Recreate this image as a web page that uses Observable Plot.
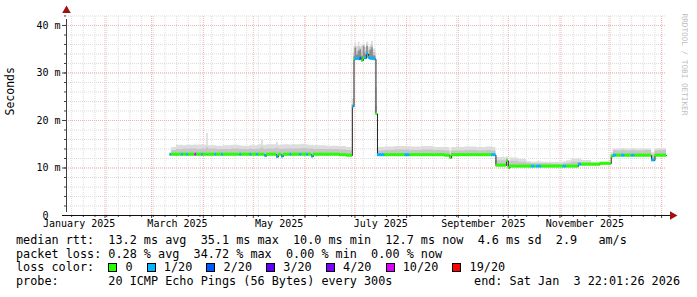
<!DOCTYPE html>
<html><head><meta charset="utf-8">
<script src="https://cdn.jsdelivr.net/npm/d3@7"></script>
<script src="https://cdn.jsdelivr.net/npm/@observablehq/plot@0.6"></script>
<style>
body{margin:0;background:#fff;}
#wrap{position:relative;width:697px;height:297px;overflow:hidden;background:#fff;}
#legend{position:absolute;left:16px;top:234px;font-family:"DejaVu Sans Mono",monospace;font-size:11.8px;line-height:13.67px;white-space:pre;color:#000;}
#legend .box{display:inline-block;width:7px;height:7px;border:1px solid #000;vertical-align:-1px;margin-right:1px;}
#endtxt{position:absolute;right:17px;top:275px;font-family:"DejaVu Sans Mono",monospace;font-size:11.8px;line-height:13.67px;white-space:pre;}
</style></head>
<body><div id="wrap"><div id="chart"></div><div id="legend"></div><div id="endtxt"></div></div>
<script>
// ---- data ----
const startTime = "2025-01-08T22:01:26Z";
const endTime = "2026-01-03T22:01:26Z";
const dates = [
"2025-03-12","2025-03-13","2025-03-16","2025-03-19","2025-03-20","2025-03-22","2025-03-23","2025-03-27","2025-03-28","2025-03-31",
"2025-04-01","2025-04-03","2025-04-04","2025-04-08","2025-04-09","2025-04-12","2025-04-13","2025-04-18","2025-04-23","2025-04-24",
"2025-04-29","2025-04-30","2025-05-03","2025-05-04","2025-05-06","2025-05-07","2025-05-08","2025-05-09","2025-05-15","2025-05-16",
"2025-05-18","2025-05-19","2025-05-23","2025-05-24","2025-05-29","2025-05-30","2025-06-02","2025-06-03","2025-06-05","2025-06-06",
"2025-06-14","2025-06-22","2025-06-26","2025-06-29T10:00Z","2025-06-30T10:00Z",
"2025-07-01","2025-07-02","2025-07-03","2025-07-04","2025-07-05","2025-07-06","2025-07-07","2025-07-08","2025-07-09","2025-07-10",
"2025-07-11","2025-07-12","2025-07-13T14:00Z","2025-07-14T12:00Z","2025-07-19","2025-07-25","2025-07-31","2025-08-03","2025-08-10","2025-08-17",
"2025-08-24","2025-08-27","2025-08-28","2025-09-05","2025-09-12","2025-09-18","2025-09-21","2025-09-23T14:00Z","2025-09-30","2025-10-01",
"2025-10-02","2025-10-07","2025-10-12","2025-10-15","2025-10-17","2025-10-18","2025-10-21","2025-10-27","2025-11-03","2025-11-05",
"2025-11-08","2025-11-12","2025-11-14","2025-11-20","2025-11-25","2025-12-01T18:00Z","2025-12-03","2025-12-05","2025-12-08","2025-12-10",
"2025-12-14","2025-12-16","2025-12-22","2025-12-26","2025-12-28","2025-12-30"
];
// median rtt in ms
const median = [
12.8,12.8,12.8,12.8,12.8,12.8,12.8,12.8,12.8,12.8,
12.8,12.8,12.8,12.8,12.8,12.8,12.8,12.8,12.8,12.8,
12.8,12.8,12.8,12.8,12.8,12.8,12.5,12.8,12.3,12.8,
12.4,12.8,12.8,12.8,12.8,12.8,12.8,12.8,12.4,12.8,
12.8,12.7,12.6,22.9,32.8,
32.9,33.0,32.9,33.0,32.6,33.1,33.1,34.0,33.2,33.0,
33.0,32.9,21.4,12.7,12.7,12.7,12.7,12.7,12.7,12.7,
12.6,12.1,12.7,12.7,12.7,12.7,12.7,10.5,11.5,10.0,
10.3,10.3,10.3,10.3,10.3,10.3,10.3,10.3,10.3,10.3,
10.3,10.7,10.7,10.7,10.9,12.4,12.6,12.6,12.6,12.6,
12.6,12.6,12.6,11.6,12.6,12.6
];
// lost pings out of 20
const loss = [
1,0,0,1,0,1,0,10,0,1,
0,0,0,1,0,1,0,0,1,0,
1,0,1,0,0,0,1,0,1,0,
1,0,1,0,1,0,1,0,1,0,
0,0,0,1,0,
1,1,1,2,0,0,1,1,1,1,
1,1,0,1,0,0,1,0,0,0,
0,0,0,0,0,0,1,0,0,0,
0,0,0,1,0,1,0,0,1,0,
0,1,0,0,0,0,1,0,1,0,
1,0,0,1,0,0
];
// upper edge of the darkest smoke core, ms
const smokeCore = [
12.8,12.8,12.8,12.8,12.8,12.8,12.8,12.8,12.8,12.8,
12.8,12.8,12.8,12.8,12.8,12.8,12.8,12.8,12.8,12.8,
12.8,12.8,12.8,12.8,12.8,12.8,12.5,12.8,12.3,12.8,
12.4,12.8,12.8,12.8,12.8,12.8,12.8,12.8,12.4,12.8,
12.8,12.7,12.6,22.9,33.5,
35.2,33.8,34.6,34.9,33.5,35.5,34.0,35.6,33.9,34.8,
35.3,33.6,21.4,12.7,12.7,12.7,12.7,12.7,12.7,12.7,
12.6,12.1,12.7,12.7,12.7,12.7,12.7,10.5,11.5,10.0,
10.3,10.3,10.3,10.3,10.3,10.3,10.3,10.3,10.3,10.3,
10.3,10.7,10.7,10.7,10.9,12.4,12.6,12.6,12.6,12.6,
12.6,12.6,12.6,11.6,12.6,12.6
];
// upper edge of the dense (mid-grey) smoke, ms
const smokeDense = [
12.8,13.7,13.9,13.9,14.0,13.9,14.0,14.0,13.9,14.0,
14.0,14.3,14.0,14.0,13.9,13.9,13.9,14.0,13.9,13.9,
14.0,13.9,13.9,14.0,14.3,14.0,13.9,14.0,14.2,14.0,
13.9,14.0,14.0,14.0,14.0,14.1,14.0,14.0,14.0,13.9,
13.9,13.8,13.7,23.2,34.3,
35.6,34.6,35.5,35.2,34.4,35.8,34.5,36.0,34.8,35.4,
35.9,34.3,23.0,13.6,13.7,13.8,13.8,13.7,13.8,13.7,
13.6,12.9,13.6,13.7,13.6,13.7,13.6,11.5,11.9,10.8,
11.4,11.2,11.0,10.9,10.9,10.9,10.9,10.8,10.9,11.0,
11.2,11.2,11.1,10.9,11.0,12.8,13.7,13.6,13.7,13.6,
13.7,13.6,13.7,12.8,13.6,13.7
];
// upper edge of the light smoke, ms
const smokeLight = [
12.8,14.3,14.8,14.8,14.7,14.8,14.8,14.9,14.8,14.9,
14.8,17.3,14.7,14.7,14.6,14.6,14.7,14.8,14.7,14.6,
14.8,14.7,14.7,14.9,15.9,14.8,14.8,14.9,15.4,14.8,
14.8,14.9,14.8,14.9,14.9,15.0,14.9,14.8,14.8,14.7,
14.6,14.5,14.3,24.5,35.7,
36.3,35.6,36.5,35.5,35.8,36.1,35.3,36.5,35.4,35.8,
36.7,35.0,27.0,14.3,14.4,14.5,14.5,14.4,14.5,14.3,
14.3,13.6,14.3,14.4,14.3,14.4,14.3,12.2,12.3,11.5,
12.1,11.8,11.3,11.2,11.2,11.3,11.2,11.2,11.3,11.5,
11.9,11.9,11.6,11.2,11.1,13.2,14.0,14.0,14.1,14.0,
14.1,14.0,14.0,13.2,14.0,14.1
];
const lossLevels = [0, 1, 2, 3, 4, 10, 19];
const lossLabels = ["0", "1/20", "2/20", "3/20", "4/20", "10/20", "19/20"];
const lossColors = ["#26ff00", "#00b8ff", "#0059ff", "#5e00ff", "#7e00ff", "#dd00ff", "#ff0000"];
const monthLabelDates = ["2025-01-16T12:00Z","2025-03-16T12:00Z","2025-05-16T12:00Z","2025-07-16T12:00Z","2025-09-16T00:00Z","2025-11-16T00:00Z"];
const yTickValues = [0, 10, 20, 30, 40];
const yTickLabels = ["0", "10 m", "20 m", "30 m", "40 m"];
const statsLine1 = "median rtt:  13.2 ms avg  35.1 ms max  10.0 ms min  12.7 ms now  4.6 ms sd  2.9   am/s";
const statsLine2 = "packet loss: 0.28 % avg  34.72 % max  0.00 % min  0.00 % now";
const probeLine = "probe:       20 ICMP Echo Pings (56 Bytes) every 300s";
const endLine = "end: Sat Jan  3 22:01:26 2026";

// ---- build ----
const t0 = new Date(startTime), t1 = new Date(endTime);
const yMax = 42.1;
const rows = dates.map((d, i) => ({
  t: new Date(d.length === 10 ? d + "T00:00Z" : d),
  m: median[i], loss: loss[i], core: smokeCore[i], dense: smokeDense[i], light: smokeLight[i]
}));
rows.forEach((r, i) => { r.t2 = i + 1 < rows.length ? rows[i + 1].t : t1; });
const stepRows = rows.concat([{...rows[rows.length - 1], t: t1}]);
const colorOf = l => lossColors[lossLevels.indexOf(l)];

const weeks = d3.utcSunday.range(t0, t1);
const months = d3.utcMonth.range(t0, t1);
const minorY = d3.range(0, yMax, 2);
const font = "DejaVu Sans Mono";
const minorC = "#dcdcdc", majorC = "#f2b2b2";
const yLab = yTickValues.map((v, i) => ({v, label: yTickLabels[i]}));

const chart = Plot.plot({
  width: 697, height: 234,
  marginLeft: 66, marginRight: 31, marginTop: 15, marginBottom: 19,
  x: {type: "utc", domain: [t0, t1], axis: null},
  y: {domain: [0, yMax], axis: null},
  style: {fontFamily: font, background: "#fff", overflow: "visible"},
  marks: [
    // grid
    Plot.ruleX(weeks, {y1: 0, y2: yMax, stroke: minorC, strokeDasharray: "1,1"}),
    Plot.ruleY(minorY, {x1: t0, x2: t1, stroke: minorC, strokeDasharray: "1,1"}),
    Plot.ruleX(months, {y1: 0, y2: yMax, stroke: majorC, strokeDasharray: "1,1"}),
    Plot.ruleY(yTickValues, {x1: t0, x2: t1, stroke: majorC, strokeDasharray: "1,1"}),
    // smoke
    Plot.areaY(stepRows, {x: "t", y1: "m", y2: "light", curve: "step-after", fill: "#dddddd"}),
    Plot.areaY(stepRows, {x: "t", y1: "m", y2: "dense", curve: "step-after", fill: "#c6c6c6"}),
    Plot.areaY(stepRows, {x: "t", y1: "m", y2: "core", curve: "step-after", fill: "#8c8c8c"}),
    // median line and loss colour band
    Plot.line(stepRows, {x: "t", y: "m", curve: "step-after", stroke: "#202020", strokeWidth: 1}),
    Plot.rect(rows, {x1: "t", x2: "t2", y1: "m", y2: "m", fill: d => colorOf(d.loss), insetTop: -1.5, insetBottom: -1.5}),
    // axes
    Plot.ruleY(minorY, {x1: t0, x2: t0, insetLeft: -2, stroke: "#404040"}),
    Plot.ruleY(yTickValues, {x1: t0, x2: t0, insetLeft: -4, stroke: "#404040"}),
    Plot.ruleX(weeks, {y1: 0, y2: 0, insetBottom: -2, stroke: "#404040"}),
    Plot.ruleX(months, {y1: 0, y2: 0, insetBottom: -3, stroke: "#404040"}),
    Plot.ruleY([0], {x1: t0, x2: t1, insetLeft: -4, insetRight: -4, stroke: "#101010"}),
    Plot.ruleX([t0], {y1: 0, y2: yMax, insetTop: -3, insetBottom: -4, stroke: "#404040"}),
    Plot.dot([0], {frameAnchor: "top-left", dy: -5, symbol: "triangle", r: 3.2, fill: "#a01010", stroke: null}),
    Plot.dot([0], {frameAnchor: "bottom-right", dx: 6, symbol: "triangle", rotate: 90, r: 3.2, fill: "#a01010", stroke: null}),
    // labels
    Plot.text(yLab.filter(d => d.v !== 0), {x: t0, y: "v", text: "label", textAnchor: "end", dx: -6, fontSize: 10, fill: "#000", lineAnchor: "middle"}),
    Plot.text(yLab.filter(d => d.v === 0), {x: t0, y: "v", text: "label", textAnchor: "end", dx: -18, fontSize: 10, fill: "#000", lineAnchor: "middle"}),
    Plot.text(monthLabelDates, {x: d => new Date(d), y: 0, text: d => d3.utcFormat("%B %Y")(new Date(d)), dy: 8.5, fontSize: 10, fill: "#000", lineAnchor: "middle"}),
    Plot.text(["Seconds"], {frameAnchor: "left", dx: -56, rotate: -90, fontSize: 11.5, fill: "#000"}),
    Plot.text(["RRDTOOL / TOBI OETIKER"], {frameAnchor: "top-right", dx: 21, dy: -2, rotate: 90, textAnchor: "start", fontSize: 7.7, fill: "#bdbdbd"})
  ]
});
document.getElementById("chart").appendChild(chart);

// legend below the svg
const lg = document.getElementById("legend");
const l1 = document.createElement("div"); l1.textContent = statsLine1; lg.appendChild(l1);
const l2 = document.createElement("div"); l2.textContent = statsLine2; lg.appendChild(l2);
const l3 = document.createElement("div");
l3.appendChild(document.createTextNode("loss color:  "));
lossLabels.forEach((lab, i) => {
  const b = document.createElement("span"); b.className = "box"; b.style.background = lossColors[i];
  l3.appendChild(b);
  l3.appendChild(document.createTextNode(" " + lab + (i < lossLabels.length - 1 ? "  " : "")));
});
lg.appendChild(l3);
const l4 = document.createElement("div"); l4.textContent = probeLine; lg.appendChild(l4);
document.getElementById("endtxt").textContent = endLine;
</script></body></html>
